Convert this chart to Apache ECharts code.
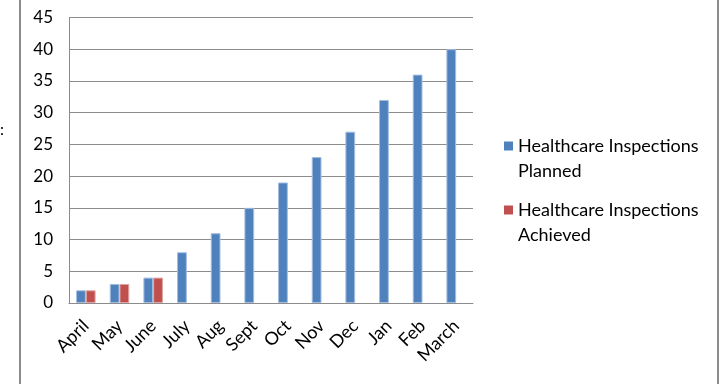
<!DOCTYPE html>
<html>
<head>
<meta charset="utf-8">
<script src="https://cdn.jsdelivr.net/npm/echarts@6/dist/echarts.min.js"></script>
<style>
  html, body { margin: 0; padding: 0; background: #fff; }
  #chart { width: 720px; height: 384px; }
</style>
</head>
<body>
<div id="chart"></div>
<script>
// data
const months = ['April', 'May', 'June', 'July', 'Aug', 'Sept', 'Oct', 'Nov', 'Dec', 'Jan', 'Feb', 'March'];
const planned = [2, 3, 4, 8, 11, 15, 19, 23, 27, 32, 36, 40];
const achieved = [2, 3, 4, null, null, null, null, null, null, null, null, null];
const yTicks = { min: 0, max: 45, interval: 5 };

const FONT = 'Lato';
const GREY = '#8c8c8c';

const chart = echarts.init(document.getElementById('chart'));

chart.setOption({
  animation: false,
  backgroundColor: '#fff',
  textStyle: { fontFamily: FONT },
  grid: { left: 69, right: 247, top: 17.5, bottom: 81 },
  legend: {
    orient: 'vertical',
    left: 504,
    top: 108.5,
    padding: 0,
    itemWidth: 9,
    itemHeight: 9,
    itemGap: -11,
    icon: 'rect',
    itemStyle: { borderWidth: 0 },
    // blank first line keeps the square level with the first text line
    formatter: (name) => '\n' + name.replace('Inspections ', 'Inspections\n'),
    textStyle: {
      fontFamily: FONT,
      fontSize: 18,
      color: '#000',
      lineHeight: 25
    }
  },
  xAxis: {
    type: 'category',
    data: months,
    axisLine: { lineStyle: { color: GREY, width: 1 } },
    axisTick: { show: false },
    axisLabel: { rotate: 45, fontSize: 18, color: '#000', fontFamily: FONT, margin: 20, interval: 0 }
  },
  yAxis: {
    type: 'value',
    min: yTicks.min,
    max: yTicks.max,
    interval: yTicks.interval,
    axisLine: { show: true, lineStyle: { color: GREY, width: 1 } },
    axisTick: { show: false },
    axisLabel: { fontSize: 17, color: '#000', fontFamily: FONT, margin: 16 },
    splitLine: { lineStyle: { color: GREY, width: 1 } }
  },
  series: [
    {
      name: 'Healthcare Inspections Planned',
      type: 'bar',
      data: planned,
      barGap: '0%',
      barCategoryGap: '42%',
      itemStyle: { color: '#4f81bd', borderColor: '#a3bde0', borderWidth: 1 }
    },
    {
      name: 'Healthcare Inspections Achieved',
      type: 'bar',
      data: achieved,
      itemStyle: { color: '#c0504d', borderColor: '#e0a3a1', borderWidth: 1 }
    }
  ],
  graphic: [
    {
      type: 'rect',
      shape: { x: 20, y: -4, width: 698, height: 392 },
      style: { fill: 'none', stroke: '#8c8c8c', lineWidth: 2 },
      silent: true
    },
    {
      type: 'text',
      left: 0,
      top: 122,
      style: { text: ':', font: '16px Lato', fill: '#000' }
    }
  ]
});
</script>
</body>
</html>
